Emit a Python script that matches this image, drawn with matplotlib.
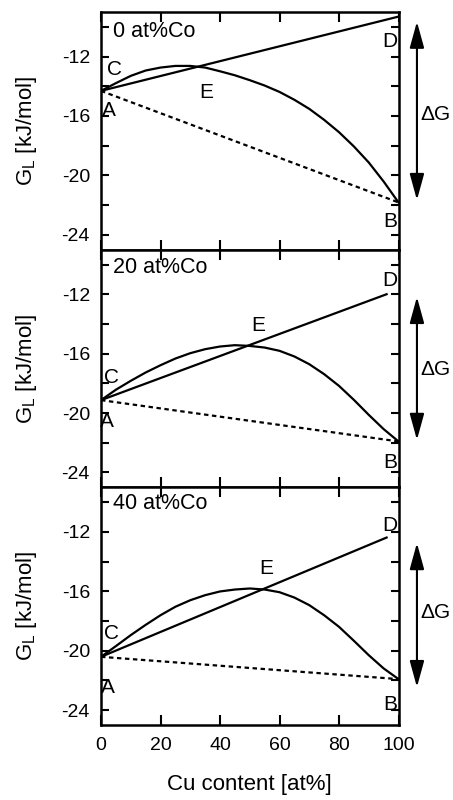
import numpy as np
import matplotlib
matplotlib.use('Agg')
import matplotlib.pyplot as plt
from matplotlib.ticker import MultipleLocator

plt.rcParams['font.family'] = ['Liberation Sans', 'DejaVu Sans']
plt.rcParams['mathtext.fontset'] = 'custom'
plt.rcParams['mathtext.rm'] = 'Liberation Sans'
plt.rcParams['axes.unicode_minus'] = False

# Cu content [at%] where the curves were read
cu = [0, 5, 10, 15, 20, 25, 30, 35, 40, 45, 50, 55, 60, 65, 70, 75, 80, 85, 90, 95, 100]

# liquid Gibbs energy curves [kJ/mol]
gl_0co = [-14.31, -13.79, -13.30, -12.94, -12.74, -12.63, -12.63, -12.74, -12.99, -13.26, -13.59,
          -13.95, -14.38, -14.91, -15.52, -16.26, -17.09, -18.05, -19.13, -20.41, -21.82]
gl_20co = [-19.13, -18.43, -17.83, -17.27, -16.78, -16.33, -15.97, -15.70, -15.52, -15.43, -15.48,
           -15.59, -15.81, -16.19, -16.71, -17.38, -18.17, -19.11, -20.12, -21.08, -21.91]
gl_40co = [-20.41, -19.69, -18.95, -18.26, -17.61, -17.04, -16.60, -16.26, -16.01, -15.88, -15.81,
           -15.88, -16.06, -16.42, -16.93, -17.61, -18.39, -19.33, -20.30, -21.19, -21.91]

# straight line A -> D
ad_x = [[0, 100], [0, 96], [0, 96]]
ad_y = [[-14.31, -9.31], [-19.13, -12.0], [-20.41, -12.38]]
# dashed line A -> B
ab_x = [0, 100]
ab_y = [[-14.31, -21.82], [-19.13, -21.91], [-20.41, -21.91]]

curves = [gl_0co, gl_20co, gl_40co]
panel_names = ['0 at%Co', '20 at%Co', '40 at%Co']

# point labels (x, y) per panel
lab_A = [(2.5, -15.6), (1.9, -20.6), (2.2, -22.5)]
lab_B = [(97.2, -23.1), (97.2, -23.3), (97.2, -23.65)]
lab_C = [(4.7, -12.9), (3.6, -17.6), (3.6, -18.85)]
lab_D = [(97.2, -11.0), (97.2, -11.1), (97.2, -11.55)]
lab_E = [(35.5, -14.45), (52.9, -14.1), (55.7, -14.45)]
name_y = [-10.3, -10.2, -10.1]

# Delta G arrows (top, bottom) and text height
dg_arrow = [(-9.65, -21.66), (-12.18, -21.81), (-12.75, -22.45)]
dg_text = [-15.93, -17.1, -17.4]

fig = plt.figure(figsize=(4.53, 8.0), dpi=100)

left, width = 101 / 453, 297.5 / 453
bottom = 1 - 725 / 800
h = (725 - 12) / 3 / 800

axes = []
for i in range(3):
    ax = fig.add_axes([left, bottom + (2 - i) * h, width, h])
    axes.append(ax)

for i, ax in enumerate(axes):
    ax.plot(cu, curves[i], color='k', lw=1.6)
    ax.plot(ad_x[i], ad_y[i], color='k', lw=1.6)
    ax.plot(ab_x, ab_y[i], color='k', lw=1.6, linestyle=(0, (2, 1.6)))

    ax.set_xlim(0, 100)
    ax.set_ylim(-25, -9)
    ax.xaxis.set_major_locator(MultipleLocator(20))
    ax.yaxis.set_minor_locator(MultipleLocator(2))
    ax.set_yticks([-12, -16, -20, -24])
    ax.tick_params(axis='both', which='both', direction='in', top=True, right=True,
                   width=1.5, labelsize=14)
    ax.tick_params(axis='x', which='major', length=7, pad=9)
    ax.tick_params(axis='y', which='both', length=6, pad=8)
    for sp in ax.spines.values():
        sp.set_linewidth(1.8)

    ax.set_ylabel('G$_\\mathrm{L}$ [kJ/mol]', fontsize=16)
    ax.yaxis.set_label_coords(-0.21, 0.5)

    ax.text(4.1, name_y[i], panel_names[i], fontsize=15.5, ha='left', va='center')
    for lab, pos in zip('ABCDE', [lab_A[i], lab_B[i], lab_C[i], lab_D[i], lab_E[i]]):
        ax.text(pos[0], pos[1], lab, fontsize=15, ha='center', va='center')

    ax.annotate('', xy=(1.062, dg_arrow[i][0]), xytext=(1.062, dg_arrow[i][1]),
                xycoords=('axes fraction', 'data'), textcoords=('axes fraction', 'data'),
                arrowprops=dict(arrowstyle='<|-|>,head_length=0.8,head_width=0.22',
                                mutation_scale=20, lw=1.5, color='k',
                                shrinkA=0, shrinkB=0),
                annotation_clip=False)
    ax.text(1.074, dg_text[i], '\u0394G', fontsize=15, ha='left', va='center',
            transform=ax.get_yaxis_transform(), clip_on=False)

    if i < 2:
        ax.tick_params(axis='x', labelbottom=False)

axes[2].set_xlabel('Cu content [at%]', fontsize=16, labelpad=14)

fig.savefig('out.png', dpi=100)
